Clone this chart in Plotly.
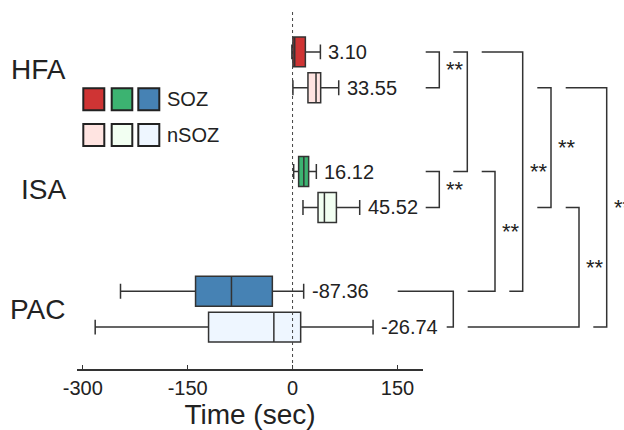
import plotly.graph_objects as go

# ---------------- data ----------------
categories = ["HFA", "ISA", "PAC"]
groups = ["SOZ", "nSOZ"]
row_labels = ["HFA SOZ", "HFA nSOZ", "ISA SOZ", "ISA nSOZ", "PAC SOZ", "PAC nSOZ"]
lower_fence = [-1.0, 0.5, 1.6, 14.9, -246.0, -282.2]
q1_vals = [0.5, 22.0, 8.7, 36.4, -138.7, -120.1]
median_vals = [3.10, 33.55, 16.12, 45.52, -87.36, -26.74]
q3_vals = [18.3, 40.2, 23.0, 62.7, -28.9, 11.6]
upper_fence = [39.8, 66.0, 34.0, 96.0, 15.9, 115.1]
median_labels = ["3.10", "33.55", "16.12", "45.52", "-87.36", "-26.74"]
x_tickvals = [-300, -150, 0, 150]
x_ticktext = ["-300", "-150", "0", "150"]
# significance brackets: (row a, row b, label)
comparisons = [
    (0, 1, "**"), (0, 2, ""), (2, 3, "**"), (0, 4, "**"), (2, 4, "**"),
    (1, 3, "**"), (1, 5, "**"), (3, 5, "**"), (4, 5, ""),
]

soz_colors = ["#cf3434", "#3cb371", "#4682b4"]
nsoz_colors = ["#ffe4e1", "#f2fff2", "#eef6ff"]
EDGE = "#333333"
FONT = "Liberation Sans, Arial, sans-serif"

W, H = 624, 430
PLOT_L, PLOT_R, PLOT_T, PLOT_B = 77, 423, 10, 369
L, T, R, B = PLOT_L, PLOT_T, W - PLOT_R, H - PLOT_B
PW, PH = PLOT_R - PLOT_L, PLOT_B - PLOT_T


def px2paper_x(px):
    return (px - PLOT_L) / PW


def px2paper_y(py):
    return (PLOT_B - py) / PH


row_pos = []
for ci in range(len(categories)):
    row_pos += [ci - 0.15, ci + 0.15]

fig = go.Figure()
for i, name in enumerate(row_labels):
    ci = i // 2
    fill = soz_colors[ci] if i % 2 == 0 else nsoz_colors[ci]
    fig.add_trace(go.Box(
        name=name, orientation="h", y=[row_pos[i]],
        q1=[q1_vals[i]], median=[median_vals[i]], q3=[q3_vals[i]],
        lowerfence=[lower_fence[i]], upperfence=[upper_fence[i]],
        width=0.25, whiskerwidth=0.5, fillcolor=fill,
        line=dict(color=EDGE, width=1.5), boxpoints=False, showlegend=False,
        hoverinfo="skip",
    ))
    fig.add_annotation(x=upper_fence[i], y=row_pos[i], xref="x", yref="y",
                       text=median_labels[i], showarrow=False, xanchor="left",
                       yanchor="middle", xshift=6,
                       font=dict(size=20, color="#222", family=FONT))

for ci, cat in enumerate(categories):
    fig.add_annotation(x=0, y=ci, xref="paper", yref="y", text=cat,
                       showarrow=False, xanchor="right", yanchor="middle",
                       xshift=-9, font=dict(size=28, color="#222", family=FONT))

# dotted zero line
fig.add_shape(type="line", xref="x", yref="paper", x0=0, x1=0, y0=0, y1=1,
              line=dict(color="#444", width=1, dash="dot"))

# bracket geometry in pixels: (top start, bottom start, vertical x)
bracket_px = [
    (425.7, 425.7, 439.3), (453.3, 453.3, 467.3), (425.7, 425.7, 439.3),
    (481.7, 509.3, 522.7), (481.7, 467.7, 495.0), (537.3, 537.3, 551.0),
    (565.7, 593.3, 606.7), (565.7, 467.7, 579.0), (397.7, 446.7, 453.3),
]
for (ra, rb, lab), (xt, xb, xv) in zip(comparisons, bracket_px):
    ya, yb = row_pos[ra], row_pos[rb]
    path = (f"M {px2paper_x(xt)} {ya} L {px2paper_x(xv)} {ya} "
            f"L {px2paper_x(xv)} {yb} L {px2paper_x(xb)} {yb}")
    fig.add_shape(type="path", path=path, xref="paper", yref="y",
                  line=dict(color=EDGE, width=1.5))
    if lab:
        fig.add_annotation(x=px2paper_x(xv), y=(ya + yb) / 2, xref="paper",
                           yref="y", text=lab, showarrow=False, xanchor="left",
                           yanchor="middle", xshift=5,
                           font=dict(size=22, color="#222", family=FONT))

# legend (squares + labels)
sq_x = [(83.3, 104.3), (111.7, 132.3), (138.3, 159.3)]
sq_y = [(88.3, 110.3), (124.0, 146.0)]
for gi, (cols, lab) in enumerate(zip([soz_colors, nsoz_colors], groups)):
    y0, y1 = sq_y[gi]
    for (x0, x1), col in zip(sq_x, cols):
        fig.add_shape(type="rect", xref="paper", yref="paper",
                      x0=px2paper_x(x0), x1=px2paper_x(x1),
                      y0=px2paper_y(y1), y1=px2paper_y(y0),
                      fillcolor=col, line=dict(color="#222", width=2))
    fig.add_annotation(x=px2paper_x(165), y=px2paper_y((y0 + y1) / 2),
                       xref="paper", yref="paper", text=lab, showarrow=False,
                       xanchor="left", yanchor="middle",
                       font=dict(size=20, color="#222", family=FONT))

fig.update_layout(
    width=W, height=H, margin=dict(l=L, r=R, t=T, b=B, autoexpand=False),
    paper_bgcolor="white", plot_bgcolor="white", boxmode="overlay",
    font=dict(family=FONT, color="#222"),
    xaxis=dict(range=[-308.2, 186.5], tickvals=x_tickvals, ticktext=x_ticktext,
               automargin=False,
               showgrid=False, zeroline=False, showline=True, linecolor=EDGE,
               linewidth=1.5, ticks="inside", ticklen=4, tickcolor=EDGE,
               tickfont=dict(size=20, color="#222", family=FONT),
               title=dict(text="Time (sec)", standoff=9,
                          font=dict(size=28, color="#222", family=FONT))),
    yaxis=dict(range=[2.5, -0.5], showgrid=False, zeroline=False,
               showticklabels=False, showline=False, automargin=False),
)

fig.write_html("out.html", config={"displayModeBar": False},
               post_script="document.body.style.margin='0';"
                           "document.body.style.overflow='hidden';")
